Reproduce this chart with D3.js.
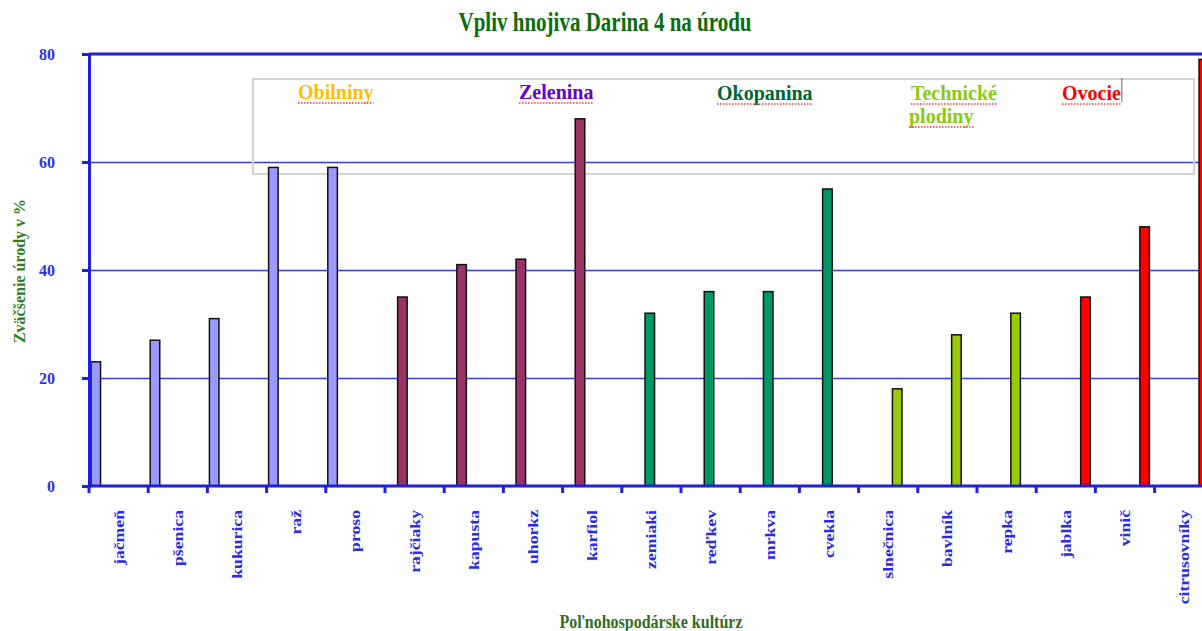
<!DOCTYPE html>
<html>
<head>
<meta charset="utf-8">
<script src="https://cdn.jsdelivr.net/npm/d3@7"></script>
<style>
  body { margin: 0; background: #fff; }
  svg { display: block; font-family: "Liberation Serif", "Times New Roman", serif; font-weight: bold; }
</style>
</head>
<body>
<div id="chart"></div>
<script>
const groups = ['Obilniny', 'Zelenina', 'Okopanina', 'Technické plodiny', 'Ovocie'];
const groupColors = ['#9999ff', '#993366', '#009966', '#99cc00', '#ff0000'];
const legendColors = ['#ffc000', '#6600cc', '#006633', '#88cc11', '#ff0000'];

const categories = ['jačmeň', 'pšenica', 'kukurica', 'raž', 'proso', 'rajčiaky', 'kapusta', 'uhorkz',
    'karfiol', 'zemiaki', 'reďkev', 'mrkva', 'cvekla', 'slnečnica', 'bavlník', 'repka', 'jablka',
    'vinič', 'citrusovníky'];
const groupOf = [0, 0, 0, 0, 0, 1, 1, 1, 1, 2, 2, 2, 2, 3, 3, 3, 4, 4, 4];
const values = [23, 27, 31, 59, 59, 35, 41, 42, 68, 32, 36, 36, 55, 18, 28, 32, 35, 48, 79];
const yTicks = [0, 20, 40, 60, 80];

const width = 1202;
const height = 631;
const plot = { left: 89, top: 54, bottom: 486, step: 59.2 };
plot.right = plot.left + categories.length * plot.step; // runs off the right edge, like the original

const svg = d3.select('#chart').append('svg')
    .attr('width', width)
    .attr('height', height);

const x = d3.scaleBand()
    .domain(categories)
    .range([plot.left, plot.right])
    .padding(0);

// slot inside each category, one per group
const slot = d3.scaleBand()
    .domain(d3.range(groups.length))
    .range([2, 54])
    .paddingInner(0.1);

const y = d3.scaleLinear()
    .domain([0, 80])
    .range([plot.bottom, plot.top]);

const axisBlue = '#1f1fe0';

// gridlines
svg.append('g')
    .attr('transform', `translate(${plot.left},0)`)
    .call(d3.axisLeft(y).tickValues(yTicks.slice(1, -1)).tickSize(-(width - plot.left)).tickFormat(''))
    .call(g => g.select('.domain').remove())
    .call(g => g.selectAll('line').attr('stroke', '#3a3ae8').attr('stroke-width', 1.5));

// legend box (text boxes placed by hand in the original)
svg.append('rect')
    .attr('x', 253).attr('y', 79)
    .attr('width', 941).attr('height', 95)
    .attr('fill', 'none')
    .attr('stroke', '#d4d4d4')
    .attr('stroke-width', 2);

const legendPos = [[298, 99], [519, 99], [717, 100], [911, 100], [1062, 100]];
groups.forEach((name, i) => {
    const lines = name.split(' ');
    lines.forEach((line, j) => {
        const [lx, ly] = [legendPos[i][0] - (j ? 2 : 0), legendPos[i][1] + j * 23];
        const t = svg.append('text')
            .attr('transform', `translate(${lx},${ly}) scale(1,1.1)`)
            .attr('font-size', 20)
            .attr('fill', legendColors[i])
            .text(line);
        const len = t.node().getComputedTextLength();
        svg.append('line')
            .attr('x1', lx).attr('x2', lx + len)
            .attr('y1', ly + 4).attr('y2', ly + 4)
            .attr('stroke', '#ff3b3b')
            .attr('stroke-width', 1.5)
            .attr('stroke-dasharray', '1.5,1.5');
        if (i === groups.length - 1) {
            // text cursor left in the original
            svg.append('line')
                .attr('x1', lx + len + 1).attr('x2', lx + len + 1)
                .attr('y1', 78).attr('y2', 102)
                .attr('stroke', '#666').attr('stroke-width', 1);
        }
    });
});

// bars
svg.append('g')
    .selectAll('rect')
    .data(categories)
    .join('rect')
    .attr('x', (d, i) => x(d) + slot(groupOf[i]))
    .attr('y', (d, i) => y(values[i]))
    .attr('width', slot.bandwidth())
    .attr('height', (d, i) => y(0) - y(values[i]))
    .attr('fill', (d, i) => groupColors[groupOf[i]])
    .attr('stroke', '#111')
    .attr('stroke-width', 1.5);

// top frame line
svg.append('line')
    .attr('x1', plot.left).attr('x2', width)
    .attr('y1', plot.top).attr('y2', plot.top)
    .attr('stroke', axisBlue).attr('stroke-width', 3);

// y axis
svg.append('g')
    .attr('transform', `translate(${plot.left},0)`)
    .call(d3.axisLeft(y).tickValues(yTicks).tickSize(7).tickPadding(0))
    .call(g => g.select('.domain').attr('stroke', axisBlue).attr('stroke-width', 3))
    .call(g => g.selectAll('.tick line').attr('stroke', axisBlue).attr('stroke-width', 3))
    .call(g => g.selectAll('.tick text')
        .attr('x', -34)
        .attr('font-size', 16)
        .attr('font-family', '"Liberation Serif", serif')
        .attr('font-weight', 'bold')
        .attr('fill', '#3030f0'));

// x axis line and boundary ticks
svg.append('line')
    .attr('x1', plot.left - 1).attr('x2', width)
    .attr('y1', plot.bottom).attr('y2', plot.bottom)
    .attr('stroke', axisBlue).attr('stroke-width', 3);

svg.append('g')
    .selectAll('line')
    .data(categories)
    .join('line')
    .attr('x1', d => x(d)).attr('x2', d => x(d))
    .attr('y1', plot.bottom).attr('y2', plot.bottom + 7)
    .attr('stroke', axisBlue).attr('stroke-width', 3);

// category labels
svg.append('g')
    .selectAll('text')
    .data(categories)
    .join('text')
    .attr('transform', d => `translate(${x(d) + x.bandwidth() / 2 + 5},510) scale(1,1.22) rotate(-90)`)
    .attr('text-anchor', 'end')
    .attr('font-size', 14.5)
    .attr('fill', '#2a2ae8')
    .text(d => d);

// title
svg.append('text')
    .attr('transform', 'translate(605,31) scale(1,1.27)')
    .attr('text-anchor', 'middle')
    .attr('font-size', 21)
    .attr('fill', '#0b6e0b')
    .text('Vpliv hnojiva Darina 4 na úrodu');

// y axis title
svg.append('text')
    .attr('transform', 'translate(25,271) rotate(-90)')
    .attr('text-anchor', 'middle')
    .attr('font-size', 16)
    .attr('fill', '#2f7f1f')
    .text('Zväčšenie úrody v %');

// x axis title
svg.append('text')
    .attr('transform', 'translate(651,628) scale(1,1.15)')
    .attr('text-anchor', 'middle')
    .attr('font-size', 16)
    .attr('fill', '#2f6f1f')
    .text('Poľnohospodárske kultúrz');
</script>
</body>
</html>
